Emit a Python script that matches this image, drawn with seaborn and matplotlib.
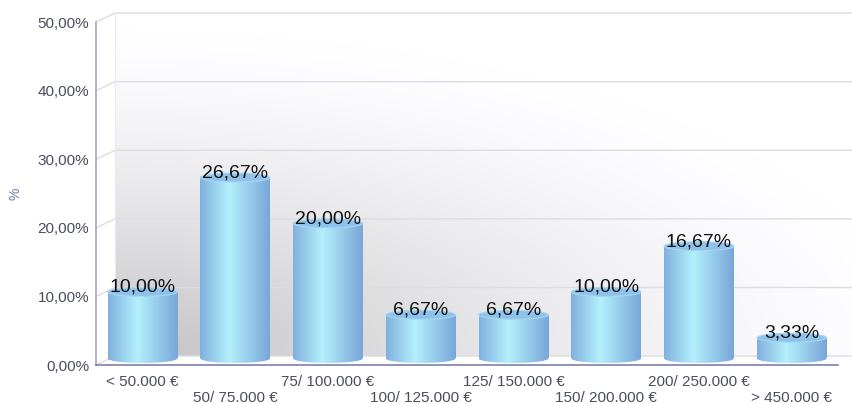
import numpy as np
import pandas as pd
import seaborn as sns
import matplotlib.pyplot as plt
import matplotlib.transforms as mtransforms
from matplotlib.patches import Ellipse
from matplotlib.colors import LinearSegmentedColormap

categories = ["< 50.000 €", "50/ 75.000 €", "75/ 100.000 €", "100/ 125.000 €",
              "125/ 150.000 €", "150/ 200.000 €", "200/ 250.000 €", "> 450.000 €"]
shares = [10.00, 26.67, 20.00, 6.67, 6.67, 10.00, 16.67, 3.33]
value_labels = ["10,00%", "26,67%", "20,00%", "6,67%", "6,67%", "10,00%", "16,67%", "3,33%"]
y_ticks = [0, 10, 20, 30, 40, 50]
y_tick_labels = ["0,00%", "10,00%", "20,00%", "30,00%", "40,00%", "50,00%"]

sns.set_style("white")
plt.rcParams['font.family'] = ['Liberation Sans', 'DejaVu Sans']

fig = plt.figure(figsize=(8.52, 4.04), dpi=100)
ax = fig.add_axes([0.1127, 0.0965, 0.871, 0.849])
ax.patch.set_visible(False)

df = pd.DataFrame({"range": categories, "share": shares})
sns.barplot(df, x="range", y="share", width=0.75, color="#9ccbee", ax=ax, zorder=3)

ax.set_xlim(-0.5, 7.5)
ax.set_ylim(0, 50)

# back wall with a soft grey gradient from the lower left
wall_dx, wall_dy = 0.0256, 0.026
u = np.linspace(0, 1, 300)
v = np.linspace(0, 1, 200)
U, V = np.meshgrid(u, v)
dark = np.clip(1 - np.sqrt((U / 1.1) ** 2 + (V / 0.95) ** 2), 0, 1)
grey = 1 - 0.24 * dark ** 1.4
img = np.dstack([grey, grey, grey * 1.01]).clip(0, 1)
ax.imshow(img, origin="lower", extent=[wall_dx, 1.02, wall_dy, 1.0 + wall_dy],
          transform=ax.transAxes, aspect="auto", zorder=0, clip_on=False)

# gridlines: slanted on the side wall, flat on the back wall
blend = mtransforms.blended_transform_factory(ax.transAxes, ax.transData)
off = wall_dy * 50
for t in y_ticks:
    ax.plot([0, wall_dx, 1.02], [t, t + off, t + off], transform=blend,
            color="#dcdce6", lw=1, zorder=1, clip_on=False)
ax.plot([wall_dx, wall_dx], [off, 50 + off], transform=blend,
        color="#ececf0", lw=0.8, zorder=1, clip_on=False)

# cylinders (drawn half a wall depth back, so lifted a little)
cyl = LinearSegmentedColormap.from_list(
    "cyl", [(0, "#80b0de"), (0.42, "#b4f0fc"), (1, "#78a6d8")])
grad = cyl(np.linspace(0, 1, 256))[None, :, :]
eh = 1.3
lift = off / 2
for patch, val, lab in zip(ax.patches, shares, value_labels):
    x0 = patch.get_x()
    w = patch.get_width()
    cx = x0 + w / 2
    base = 0.3 + eh / 2
    topy = val + lift
    patch.set_y(base)
    patch.set_height(topy - base)
    patch.set_facecolor("none")
    patch.set_edgecolor("none")
    im = ax.imshow(grad, extent=[x0, x0 + w, 0, topy], aspect="auto", zorder=3)
    im.set_clip_path(patch)
    bottom = Ellipse((cx, base), w, eh, facecolor="none", edgecolor="none")
    ax.add_patch(bottom)
    im2 = ax.imshow(grad, extent=[x0, x0 + w, 0, topy], aspect="auto", zorder=3)
    im2.set_clip_path(bottom)
    top = Ellipse((cx, topy), w, eh, facecolor="#8ec2ea", edgecolor="#a6d6f2",
                  lw=0.8, zorder=4)
    ax.add_patch(top)
    ax.text(cx, topy, lab, ha="center", va="baseline", fontsize=14,
            color="#111111", zorder=5)

ax.set_xlim(-0.5, 7.5)
ax.set_ylim(0, 50)

ax.set_yticks(y_ticks)
ax.set_yticklabels(y_tick_labels)
ax.set_xticks(range(len(categories)))
ax.set_xticklabels(categories)
for i, tl in enumerate(ax.get_xticklabels()):
    if i % 2 == 1:
        tl.set_y(-0.048)
ax.tick_params(axis="both", length=0, labelsize=11, labelcolor="#4a4e5c")
ax.tick_params(axis="x", pad=7)
ax.tick_params(axis="y", pad=5)
ax.set_xlabel("")
ax.set_ylabel("%", color="#6a78a8", fontsize=10, labelpad=11)

for side in ["top", "right"]:
    ax.spines[side].set_visible(False)
ax.spines["left"].set_color("#a4a4c4")
ax.spines["bottom"].set_color("#7e80aa")
ax.spines["left"].set_linewidth(1.2)
ax.spines["bottom"].set_linewidth(1.2)
ax.spines["left"].set_zorder(6)
ax.spines["bottom"].set_zorder(6)

plt.savefig("out.png", dpi=100)
